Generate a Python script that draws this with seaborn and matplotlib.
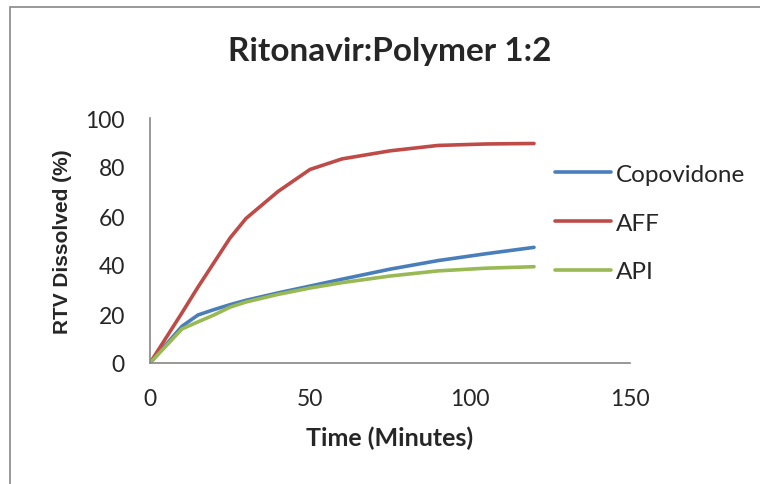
import matplotlib
matplotlib.use("Agg")
import matplotlib.pyplot as plt
import seaborn as sns
import pandas as pd
from matplotlib.patches import Rectangle

time_min = [0, 10, 15, 20, 25, 30, 40, 50, 60, 75, 90, 105, 120]
copovidone = [0, 15.0, 19.6, 21.8, 23.8, 25.6, 28.6, 31.4, 34.2, 38.3, 41.8, 44.6, 47.2]
aff = [0, 20.5, 31.0, 41.0, 51.0, 59.0, 70.0, 79.0, 83.3, 86.6, 88.8, 89.4, 89.6]
api = [0, 13.9, 16.8, 19.6, 22.8, 24.9, 28.0, 30.6, 32.8, 35.5, 37.6, 38.7, 39.3]
series_names = ["Copovidone", "AFF", "API"]
colors = ["#4A7EBB", "#BE4B48", "#98B954"]

rows = []
for name, vals in zip(series_names, [copovidone, aff, api]):
    for t, v in zip(time_min, vals):
        rows.append({"Time": t, "Dissolved": v, "Series": name})
df = pd.DataFrame(rows)

sns.set_style("white")
plt.rcParams['font.family'] = ['Lato', 'DejaVu Sans']

fig = plt.figure(figsize=(7.6, 4.85), dpi=100)
ax = fig.add_axes([150/760, 1-364/485, 480/760, 245/485])

sns.lineplot(data=df, x="Time", y="Dissolved", hue="Series", hue_order=series_names,
             palette=colors, linewidth=2.6, ax=ax, legend=True)

ax.set_xlim(0, 150)
ax.set_ylim(0, 100)
ax.set_xticks([0, 50, 100, 150])
ax.set_yticks([0, 20, 40, 60, 80, 100])
ax.tick_params(axis='both', length=0, labelsize=16.5)
ax.tick_params(axis='x', pad=18)
ax.tick_params(axis='y', pad=18)
for s in ["top", "right"]:
    ax.spines[s].set_visible(False)
for s in ["left", "bottom"]:
    ax.spines[s].set_color("#868686")
    ax.spines[s].set_linewidth(1.2)

ax.set_xlabel("Time (Minutes)", fontsize=18, fontweight="bold", labelpad=12)
ax.set_ylabel("RTV Dissolved (%)", fontsize=15, fontweight="bold",
              family=["Liberation Sans", "DejaVu Sans"], labelpad=10)

fig.text(390/760, 1-52/485, "Ritonavir:Polymer 1:2", ha="center", va="center",
         fontsize=24, fontweight="bold")

leg = ax.legend(loc="center left", bbox_to_anchor=(533/760, 1-224/485),
                bbox_transform=fig.transFigure, frameon=False, fontsize=17.5,
                handlelength=2.3, handletextpad=0.2, labelspacing=1.15)
for line in leg.get_lines():
    line.set_linewidth(2.6)

fig.add_artist(Rectangle((10/760, -0.05), 1.0, 1-8/485+0.05, transform=fig.transFigure,
                         fill=False, edgecolor="#888888", linewidth=1.2))

fig.savefig("out.png", dpi=100)
